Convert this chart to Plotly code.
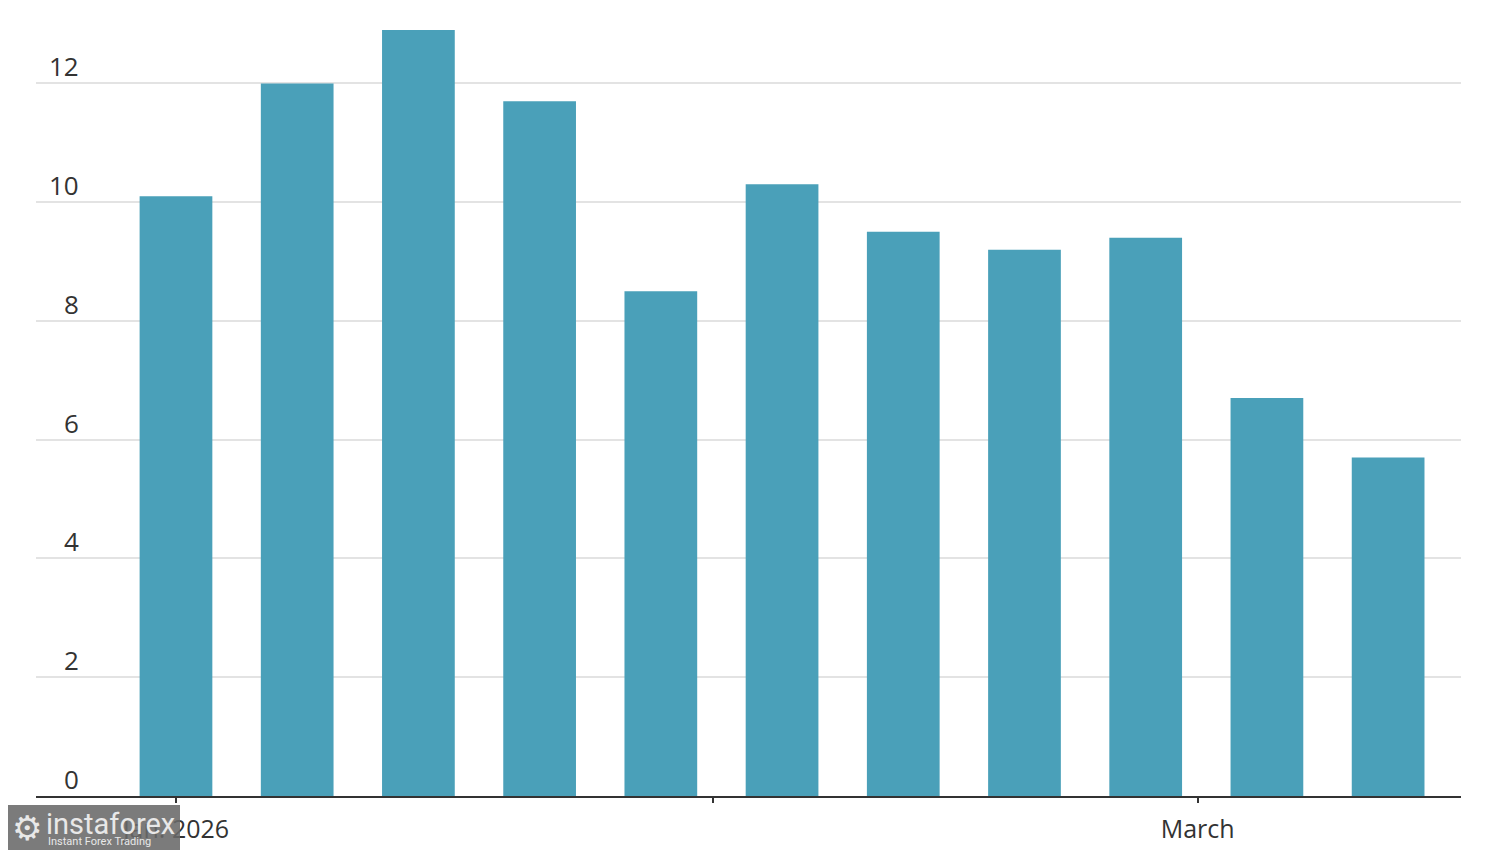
import plotly.graph_objects as go

# weekly readings
weeks = ["2026-01-01", "2026-01-08", "2026-01-15", "2026-01-22", "2026-01-29",
         "2026-02-05", "2026-02-12", "2026-02-19", "2026-02-26", "2026-03-05",
         "2026-03-12"]
values = [10.1, 12.0, 12.9, 11.7, 8.5, 10.3, 9.5, 9.2, 9.4, 6.7, 5.7]

tick_dates = ["2026-01-01", "2026-02-01", "2026-03-01"]
tick_text = ["Jan. 2026", "", "March"]
y_ticks = [0, 2, 4, 6, 8, 10, 12]

BAR = "#4aa0b9"
INK = "#333333"
FONT = "Open Sans, Noto Sans, sans-serif"
PW, PH = 1425, 772  # plot area size in px

fig = go.Figure(go.Bar(
    x=weeks,
    y=values,
    width=4.2 * 86400000,
    marker_color=BAR,
    marker_line_width=0,
))

# y tick labels sit above the gridlines, right-aligned just inside the plot
for v in y_ticks:
    fig.add_annotation(
        x=45 / PW, xref="paper", y=v, yref="y",
        text=str(v), showarrow=False,
        xanchor="right", yanchor="bottom", yshift=-3,
        font=dict(family=FONT, size=26, color=INK),
    )

# watermark box
fig.add_shape(type="rect", xref="paper", yref="paper",
              x0=-28 / PW, x1=144 / PW, y0=-54 / PH, y1=-9 / PH,
              fillcolor="rgba(105,105,105,0.88)", line_width=0, layer="above")
fig.add_annotation(x=-26 / PW, xref="paper", y=-32 / PH, yref="paper",
                   text="⚙", showarrow=False, xanchor="left", yanchor="middle",
                   font=dict(family="DejaVu Sans", size=34, color="#e8e8e8"))
fig.add_annotation(x=8 / PW, xref="paper", y=-28 / PH, yref="paper",
                   text="instaforex", showarrow=False, xanchor="left", yanchor="middle",
                   font=dict(family="Roboto, sans-serif", size=29, color="#e8e8e8"))
fig.add_annotation(x=10 / PW, xref="paper", y=-45 / PH, yref="paper",
                   text="Instant Forex Trading", showarrow=False, xanchor="left", yanchor="middle",
                   font=dict(family="Roboto, sans-serif", size=11, color="#e8e8e8"))

fig.update_layout(
    width=1500,
    height=850,
    margin=dict(l=28, r=47, t=16, b=62),
    plot_bgcolor="white",
    paper_bgcolor="white",
    showlegend=False,
    font=dict(family=FONT, size=26, color=INK),
    xaxis=dict(
        type="date",
        range=["2025-12-23 22:00", "2026-03-16 05:00"],
        tickvals=tick_dates,
        ticktext=tick_text,
        showgrid=False,
        showline=True,
        linecolor=INK,
        linewidth=2,
        ticks="outside",
        ticklen=5,
        tickwidth=1.5,
        tickcolor=INK,
        ticklabelstandoff=5,
        tickfont=dict(family=FONT, size=25, color=INK),
    ),
    yaxis=dict(
        range=[0, 13],
        tickvals=y_ticks,
        showticklabels=False,
        showgrid=True,
        gridcolor="#e3e3e3",
        gridwidth=1.5,
        zeroline=False,
        fixedrange=True,
    ),
)

fig.write_html("out.html")
